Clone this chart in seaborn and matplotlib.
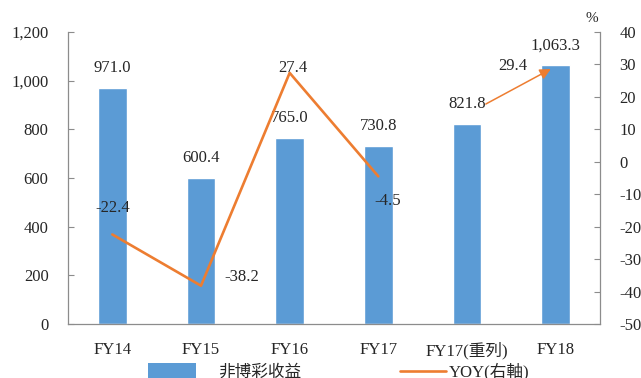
import numpy as np
import matplotlib
matplotlib.use("Agg")
import matplotlib.pyplot as plt
from matplotlib.patches import Patch
from matplotlib.lines import Line2D
from matplotlib.ticker import FuncFormatter
import seaborn as sns

# ---- data ----
categories = ["FY14", "FY15", "FY16", "FY17", "FY17(重列)", "FY18"]
revenue = [971.0, 600.4, 765.0, 730.8, 821.8, 1063.3]
yoy_line = [-22.4, -38.2, 27.4, -4.5]   # FY14..FY17
yoy_fy18 = 29.4                          # FY17(重列) -> FY18 arrow
bar_label = "非博彩收益"
line_label = "YOY(右軸)"
left_ticks = [0, 200, 400, 600, 800, 1000, 1200]
right_ticks = [-50, -40, -30, -20, -10, 0, 10, 20, 30, 40]

sns.set_style("white")
plt.rcParams["font.family"] = ["Liberation Serif", "Noto Sans CJK TC"]
plt.rcParams["font.size"] = 12

BLUE = "#5B9BD5"
ORANGE = "#ED7D31"
GRAY = "#8C8C8C"
FS = 12

fig = plt.figure(figsize=(6.41, 3.78), dpi=100)
ax = fig.add_axes([68 / 641, 1 - 324 / 378, (600 - 68) / 641, (324 - 32) / 378])

sns.barplot(x=categories, y=revenue, color=BLUE, saturation=1, width=0.32, ax=ax)
ax.set_xlim(-0.5, len(categories) - 0.5)
ax.set_ylim(left_ticks[0], left_ticks[-1])
ax.set_yticks(left_ticks)
ax.yaxis.set_major_formatter(FuncFormatter(lambda v, p: f"{v:,.0f}"))
ax.set_xlabel("")
ax.set_ylabel("")

# x ticks: labels at centres, tick marks at boundaries
ax.set_xticks(range(len(categories)))
ax.set_xticklabels(categories, fontsize=FS)
ax.set_xticks(np.arange(-0.5, len(categories), 1), minor=True)
ax.tick_params(axis="x", which="major", length=0, pad=13)
ax.tick_params(axis="x", which="minor", length=4, direction="in", color=GRAY, width=0.8)
ax.tick_params(axis="y", direction="in", length=4, color=GRAY, width=0.8, pad=14, labelsize=FS)

for s in ["top", "right"]:
    ax.spines[s].set_visible(False)
for s in ["left", "bottom"]:
    ax.spines[s].set_color(GRAY)
    ax.spines[s].set_linewidth(0.9)

# bar value labels
label_artists = []
for i, v in enumerate(revenue):
    t = ax.annotate(f"{v:,.1f}", (i, v), xytext=(0, 20 * 0.72), textcoords="offset points",
                    ha="center", va="center", fontsize=FS)
    label_artists.append(t)

# secondary axis
ax2 = ax.twinx()
xpos = np.arange(len(categories))
sns.lineplot(x=xpos[:len(yoy_line)], y=yoy_line, ax=ax2, color=ORANGE, linewidth=1.9)
ax2.set_ylim(right_ticks[0], right_ticks[-1])
ax2.set_yticks(right_ticks)
ax2.set_yticklabels([str(t) for t in right_ticks])
ax2.set_ylabel("")
ax2.tick_params(axis="y", direction="in", length=4, color=GRAY, width=0.8, pad=14, labelsize=FS)
for s in ["top", "left", "bottom"]:
    ax2.spines[s].set_visible(False)
ax2.spines["right"].set_color(GRAY)
ax2.spines["right"].set_linewidth(0.9)
ax2.grid(False)
ax.grid(False)

# line value labels (offsets in px -> points)
offsets = [(0, 26), (41, 9), (3, 5), (9, -25)]
for i, (v, (dx, dy)) in enumerate(zip(yoy_line, offsets)):
    ax2.annotate(f"{v:.1f}", (xpos[i], v), xytext=(dx * 0.72, dy * 0.72), textcoords="offset points",
                 ha="center", va="center", fontsize=FS)

# arrow from FY17(重列) label to FY18
ax2.annotate("", xy=(xpos[5], yoy_fy18), xycoords="data",
             xytext=(1.0, 0.5), textcoords=label_artists[4],
             arrowprops=dict(arrowstyle="-|>", color=ORANGE, lw=1.1, mutation_scale=16,
                             shrinkA=0, shrinkB=4))
ax2.annotate(f"{yoy_fy18:.1f}", (xpos[5], yoy_fy18), xytext=(-43 * 0.72, 0), textcoords="offset points",
             ha="center", va="center", fontsize=FS)

fig.text(592 / 641, 1 - 19 / 378, "%", ha="center", va="center", fontsize=FS - 1)

# legend (two entries, placed separately like the original)
ly = 1 - 372 / 378
fig.legend([Patch(facecolor=BLUE, edgecolor="none")], [bar_label], loc="center left",
           bbox_to_anchor=(140 / 641, ly), frameon=False, fontsize=FS, borderpad=0,
           handlelength=2.88, handleheight=1.0, handletextpad=1.32)
fig.legend([Line2D([0], [0], color=ORANGE, lw=1.9)], [line_label], loc="center left",
           bbox_to_anchor=(392 / 641, ly), frameon=False, fontsize=FS, borderpad=0,
           handlelength=2.76, handletextpad=0.15)

fig.savefig("out.png", dpi=100)
